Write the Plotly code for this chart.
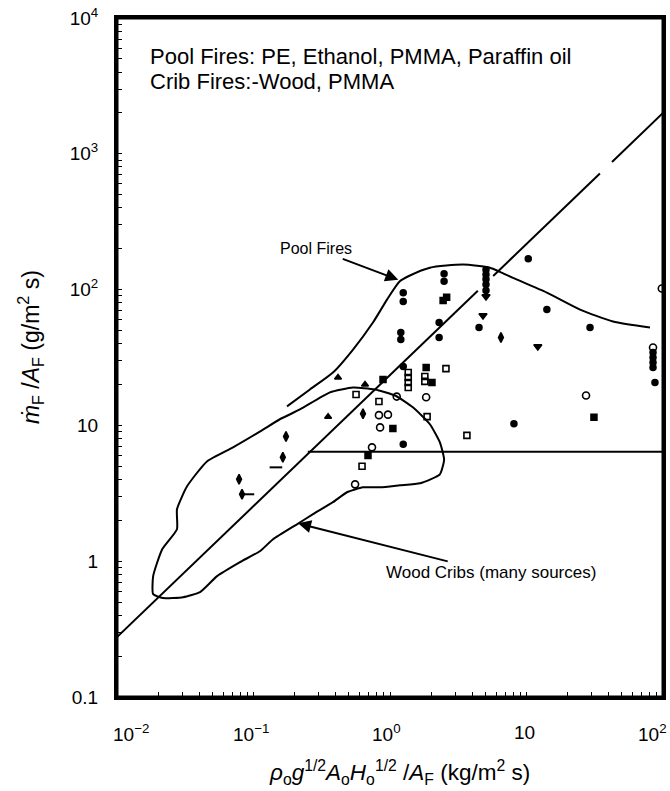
import numpy as np
import plotly.graph_objects as go

FONT = "Liberation Sans, Arial, Helvetica, sans-serif"

# ---- axis ticks ----
x_tickvals = [0.01, 0.1, 1, 10, 100]
x_ticktext = ["10<sup>−2</sup>", "10<sup>−1</sup>", "10<sup>0</sup>", "10", "10<sup>2</sup>"]
x_label_shift = [14, -3, -4, -2, -11]   # label nudges (px) as in the original artwork
y_tickvals = [0.1, 1, 10, 100, 1000, 10000]
y_ticktext = ["0.1", "1", "10", "10<sup>2</sup>", "10<sup>3</sup>", "10<sup>4</sup>"]
minor_mult = [2, 3, 4, 5, 6, 7, 8, 9]
x_decades = [0.01, 0.1, 1, 10]
y_decades = [0.1, 1, 10, 100, 1000]

# ---- correlation line (with gaps) ----
diag_x = [0.01, 4.4, None, 5.7, 34.5, None, 42.3, 100]
diag_y = [0.276, 98, None, 126, 716, None, 871, 2000]

# ---- horizontal line ----
horiz_x = [0.25, 100]
horiz_y = [6.4, 6.4]

# ---- pool fire envelope ----
pool_x = [0.176, 0.259, 0.382, 0.536, 0.750, 0.951, 1.18, 1.40, 1.96, 3.43, 5.40, 6.39, 7.96, 14.1, 24.7, 43.0, 80.3]
pool_y = [13.8, 18.4, 24.5, 36.2, 57.2, 84.4, 115, 127, 145, 153, 145, 135, 122, 95, 71.3, 58.2, 52.6]

# ---- wood crib envelope (closed loop) ----
crib_x = [0.0184, 0.0184, 0.0214, 0.0275, 0.0275, 0.0326, 0.0456, 0.0708, 0.112, 0.156, 0.219,
          0.363, 0.536, 0.776, 1.09, 1.47, 1.96, 2.32, 2.49, 2.32, 1.66, 1.18, 0.845, 0.634,
          0.484, 0.382, 0.273, 0.208, 0.139, 0.112, 0.0796, 0.0541, 0.0406, 0.0305, 0.0217, 0.0184]
crib_y = [0.572, 0.776, 1.22, 1.72, 2.41, 3.56, 5.43, 6.89, 9.03, 11.1, 13.1,
          17.5, 19.0, 18.4, 16.6, 13.6, 10.2, 7.50, 5.62, 4.36, 3.75, 3.62, 3.50, 3.50,
          3.22, 2.72, 2.22, 1.87, 1.45, 1.19, 0.984, 0.776, 0.592, 0.543, 0.535, 0.572]

# ---- data points ----
fcirc_x = [2.29, 10.3, 14.1, 29.2, 4.49, 8.09, 87.3, 1.25, 2.29, 1.25,
           5.05, 5.05, 5.05, 5.05, 5.05, 2.49, 2.49, 1.25, 1.25, 1.20, 1.20,
           84.5, 84.5, 84.5, 84.5]
fcirc_y = [44.4, 169, 71.3, 52.6, 52.6, 10.3, 20.7, 7.25, 57.2, 27.2,
           140, 129, 119, 109, 98.4, 131, 115, 95, 81.6, 48.3, 42.9,
           34.4, 31.6, 29.0, 26.7]

fsq_x = [2.45, 2.6, 1.84, 2.03, 0.889, 1.05, 0.69, 31.2]
fsq_y = [83, 88, 26.7, 20.7, 21.8, 9.5, 6.0, 11.5]

osq_x = [0.564, 0.83, 1.36, 1.36, 1.36, 1.36, 1.80, 1.80, 2.57, 1.87, 3.66, 0.624]
osq_y = [16.9, 15.0, 24.5, 22.5, 20.7, 19.0, 22.9, 21.1, 26.2, 11.6, 8.44, 5.0]

ocirc_x = [1.12, 1.84, 0.83, 0.966, 0.846, 0.738, 0.555, 27.3, 98, 84.5]
ocirc_y = [16.3, 16.1, 11.9, 12.0, 9.67, 6.89, 3.68, 16.6, 102, 37.5]

tri_x = [0.416, 0.352, 0.656]
tri_y = [22.5, 11.6, 20.0]

itri_x = [5.05, 4.80, 12.1]
itri_y = [88.9, 64.4, 38.1]

tall_x = [0.173, 0.164, 0.0784, 0.0824, 0.634, 6.50]
tall_y = [8.30, 5.82, 4.01, 3.11, 12.2, 44.4]

dash_x = [0.146, 0.091]
dash_y = [4.91, 3.11]

fig = go.Figure()
line_style = dict(color="black", width=2)

fig.add_trace(go.Scatter(x=diag_x, y=diag_y, mode="lines", line=line_style, connectgaps=False))
fig.add_trace(go.Scatter(x=horiz_x, y=horiz_y, mode="lines", line=line_style))
fig.add_trace(go.Scatter(x=pool_x, y=pool_y, mode="lines", line=dict(color="black", width=2, shape="spline", smoothing=0.6)))
fig.add_trace(go.Scatter(x=crib_x, y=crib_y, mode="lines", line=dict(color="black", width=2, shape="spline", smoothing=0.5)))

def mk(x, y, symbol, size, filled=True, lw=1.5):
    fig.add_trace(go.Scatter(
        x=x, y=y, mode="markers",
        marker=dict(symbol=symbol, size=size,
                    color="black" if filled else "white",
                    line=dict(color="black", width=lw))))

mk(fcirc_x, fcirc_y, "circle", 6)
mk(fsq_x, fsq_y, "square", 6)
mk(osq_x, osq_y, "square-open", 6, lw=1.6)
mk(ocirc_x, ocirc_y, "circle-open", 7, lw=1.6)
mk(tri_x, tri_y, "triangle-up", 6)
mk(itri_x, itri_y, "triangle-down", 7)
mk(tall_x, tall_y, "diamond-tall", 7)
mk(dash_x, dash_y, "line-ew", 9, lw=2)

x_minor = [m * d for d in x_decades for m in minor_mult]
y_minor = [m * d for d in y_decades for m in minor_mult]

# main axes: all ticks short
fig.update_xaxes(
    type="log", range=[-2, 2],
    tickmode="array", tickvals=x_tickvals + x_minor, showticklabels=False,
    showline=True, linecolor="black", linewidth=3, mirror=True,
    ticks="inside", ticklen=5, tickwidth=1.3, tickcolor="black",
    showgrid=False, zeroline=False, automargin=False,
)
fig.update_yaxes(
    type="log", range=[-1, 4],
    tickmode="array", tickvals=y_tickvals + y_minor,
    ticktext=y_ticktext + [""] * len(y_minor),
    showline=True, linecolor="black", linewidth=3, mirror=True,
    ticks="inside", ticklen=5, tickwidth=1.3, tickcolor="black",
    showgrid=False, zeroline=False, automargin=False,
    ticklabelstandoff=12, ticklabeloverflow="allow",
    tickfont=dict(family=FONT, size=19, color="black"),
)

# overlay axes: long major ticks
fig.update_layout(
    xaxis2=dict(type="log", range=[-2, 2], overlaying="x", anchor="y", side="bottom",
                tickmode="array", tickvals=x_tickvals, showticklabels=False,
                ticks="inside", ticklen=13, tickwidth=2.2, tickcolor="black",
                showline=False, showgrid=False, zeroline=False),
    yaxis2=dict(type="log", range=[-1, 4], overlaying="y", anchor="x", side="left",
                tickmode="array", tickvals=y_tickvals, showticklabels=False,
                ticks="inside", ticklen=13, tickwidth=2.2, tickcolor="black",
                showline=False, showgrid=False, zeroline=False),
)

annotations = [
    dict(xref="paper", yref="paper", x=0.0568, y=0.944, xanchor="left", yanchor="middle",
         text="Pool Fires: PE, Ethanol, PMMA, Paraffin oil", showarrow=False,
         font=dict(family=FONT, size=22, color="black")),
    dict(xref="paper", yref="paper", x=0.0568, y=0.907, xanchor="left", yanchor="middle",
         text="Crib Fires:-Wood, PMMA", showarrow=False,
         font=dict(family=FONT, size=22, color="black")),
    dict(x=np.log10(1.15), y=np.log10(118), xref="x", yref="y", text="Pool Fires",
         showarrow=True, arrowhead=2, arrowsize=1.3, arrowwidth=2, arrowcolor="black",
         ax=-82, ay=-31, font=dict(family=FONT, size=16, color="black")),
    dict(x=np.log10(0.212), y=np.log10(1.90), xref="x", yref="y", text="Wood Cribs (many sources)",
         showarrow=True, arrowhead=2, arrowsize=1.3, arrowwidth=2, arrowcolor="black",
         ax=193, ay=49, font=dict(family=FONT, size=17, color="black")),
    dict(xref="paper", yref="paper", x=0.518, y=-0.111, xanchor="center", yanchor="middle",
         text="<i>ρ</i><sub>o</sub><i>g</i><sup>1/2</sup><i>A</i><sub>o</sub><i>H</i><sub>o</sub><sup>1/2</sup> /<i>A</i><sub>F</sub> (kg/m<sup>2</sup> s)",
         showarrow=False, font=dict(family=FONT, size=22.5, color="black")),
    dict(xref="paper", yref="paper", x=-0.158, y=0.515, xanchor="center", yanchor="middle",
         text="<i>ṁ</i><sub>F</sub> /<i>A</i><sub>F</sub> (g/m<sup>2</sup> s)", textangle=-90,
         showarrow=False, font=dict(family=FONT, size=23, color="black")),
]
for v, t, s in zip(x_tickvals, x_ticktext, x_label_shift):
    annotations.append(dict(
        x=np.log10(v), y=-0.053, xref="x", yref="paper", text=t, showarrow=False,
        xanchor="center", yanchor="middle", xshift=s,
        font=dict(family=FONT, size=19, color="black")))

fig.update_layout(
    width=670, height=791,
    margin=dict(l=117, r=7, t=18, b=94),
    paper_bgcolor="white", plot_bgcolor="white",
    showlegend=False,
    annotations=annotations,
    shapes=[dict(type="rect", xref="paper", yref="paper", x0=0, x1=1, y0=0, y1=1,
                 line=dict(color="black", width=3), layer="above")],
)

fig.write_html(
    "out.html",
    config={"displayModeBar": False},
    post_script="document.documentElement.style.overflow='hidden';document.body.style.margin='0';document.body.style.overflow='hidden';",
)
